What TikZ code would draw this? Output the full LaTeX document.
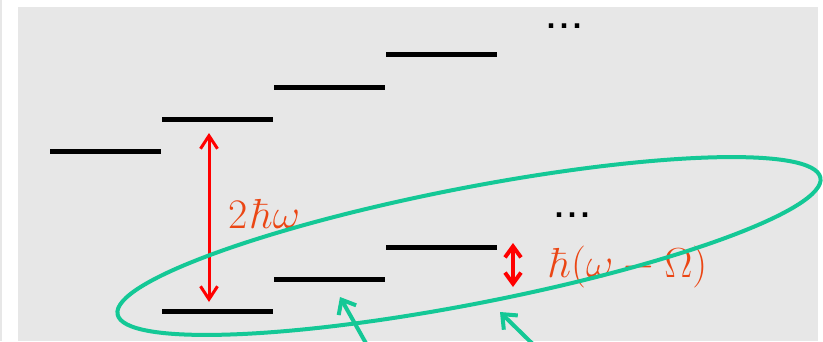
\RequirePackage{fix-cm}
\documentclass[tikz,border=0pt]{standalone}
\usepackage[no-math]{fontspec}
\newfontfamily\dvs{DejaVu Sans}
\usetikzlibrary{arrows.meta}
\definecolor{bggray}{RGB}{231,231,231}
\definecolor{teal2}{RGB}{20,200,150}
\definecolor{lblred}{RGB}{235,70,20}
\tikzset{
  level/.style={fill=black, inner sep=0pt, minimum width=111pt, minimum height=5pt},
  redarrow/.style={draw=red, line width=3pt, {Straight Barb[length=13pt,width=17pt]}-{Straight Barb[length=13pt,width=17pt]}},
  smallarrow/.style={draw=red, line width=4pt, {Straight Barb[length=11pt,width=16pt]}-{Straight Barb[length=11pt,width=16pt]}},
  garrow/.style={draw=teal2, line width=4pt, -{Straight Barb[length=12pt,width=20pt]}},
  lbl/.style={text=lblred, inner sep=0pt, font=\fontsize{42}{44}\selectfont},
  dotslbl/.style={inner sep=0pt, font=\fontsize{25}{27}\selectfont\dvs\bfseries},
}
\begin{document}
\begin{tikzpicture}[x=1pt, y=-1pt]
\clip (0,0) rectangle (823,341);
\fill[white] (0,0) rectangle (823,341);
\fill[bggray] (18,7) rectangle (818,341);
\fill[bggray] (0,0) rectangle (2,341);
% upper ladder
\node[level] (u0) at (105.5,151) {};
\node[level] (u1) at (217.5,119) {};
\node[level] (u2) at (329.5,87) {};
\node[level] (u3) at (441.5,54) {};
% lower ladder
\node[level] (l0) at (217.5,311) {};
\node[level] (l1) at (329.5,279) {};
\node[level] (l2) at (441.5,247) {};
% dots
\node[dotslbl, anchor=base] (d1) at (564,28.5) {.\kern3.5pt.\kern3.5pt.};
\node[dotslbl, anchor=base] (d2) at (572,217.5) {.\kern3.5pt.\kern3.5pt.};
% 2 hbar omega arrow
\coordinate (rtop) at (209,133);
\coordinate (rbot) at (209,302);
\draw[redarrow] (rtop) -- (rbot);
\node[lbl, anchor=base west] (t1) at (228,228) {$2\mkern1.5mu\hbar\omega$};
% small arrow
\coordinate (stop) at (513,243);
\coordinate (sbot) at (513,287);
\draw[smallarrow] (stop) -- (sbot);
\node[lbl, anchor=base west] (t2) at (549,277) {$\hbar(\omega-\Omega)$};
% ellipse
\draw[teal2, line width=4pt, shift={(469,246)}, rotate=11] (0,0) ellipse [x radius=358, y radius=58];
% green arrows
\coordinate (g1t) at (372,354);
\coordinate (g1h) at (340,297);
\coordinate (g2t) at (545,356);
\coordinate (g2h) at (500,312);
\draw[garrow] (g1t) -- (g1h);
\draw[garrow] (g2t) -- (g2h);
\end{tikzpicture}
\end{document}
